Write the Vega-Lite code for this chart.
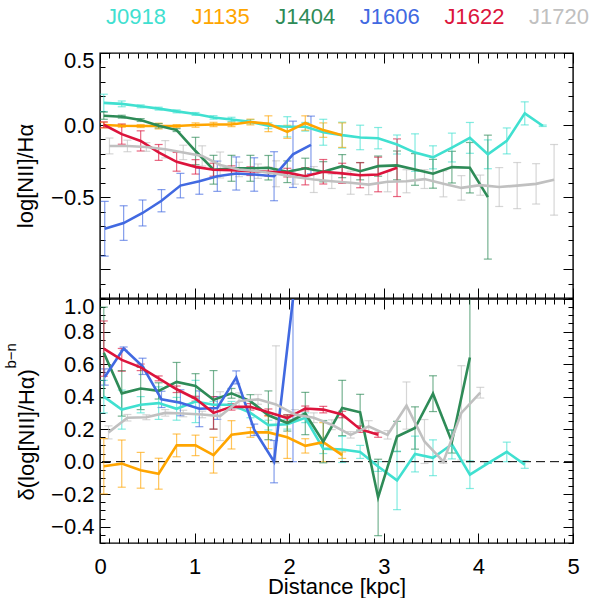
{
  "$schema": "https://vega.github.io/schema/vega-lite/v6.json",
  "padding": {"left": 2, "top": 0, "right": 0, "bottom": 0},
  "background": "white",
  "config": {
    "font": "Liberation Sans",
    "view": {"stroke": "black", "strokeWidth": 1.4},
    "axis": {
      "domain": false, "grid": false, "tickColor": "black", "tickWidth": 1,
      "labelColor": "black", "labelFontSize": 22, "labelFont": "Liberation Sans",
      "labelFlush": false, "labelOverlap": false,
      "titleFont": "Liberation Sans", "titleFontSize": 22, "titleFontWeight": "normal", "titleColor": "black"
    }
  },
  "datasets": {
    "top": [
      {"s":"J0918","x":0.04,"y":0.154,"e":0.06},{"s":"J0918","x":0.23,"y":0.147,"e":0.02},{"s":"J0918","x":0.43,"y":0.130,"e":0.01},{"s":"J0918","x":0.62,"y":0.114,"e":0.01},{"s":"J0918","x":0.81,"y":0.095,"e":0.01},{"s":"J0918","x":1.01,"y":0.077,"e":0.01},{"s":"J0918","x":1.20,"y":0.053,"e":0.012},{"s":"J0918","x":1.39,"y":0.039,"e":0.015},{"s":"J0918","x":1.59,"y":0.023,"e":0.015},{"s":"J0918","x":1.78,"y":-0.005,"e":0.02},{"s":"J0918","x":1.98,"y":-0.012,"e":0.07},{"s":"J0918","x":2.17,"y":-0.012,"e":0.03},{"s":"J0918","x":2.36,"y":-0.05,"e":0.09},{"s":"J0918","x":2.56,"y":-0.07,"e":0.09},{"s":"J0918","x":2.75,"y":-0.086,"e":0.085},{"s":"J0918","x":2.94,"y":-0.091,"e":0.074},{"s":"J0918","x":3.14,"y":-0.135,"e":0.066},{"s":"J0918","x":3.33,"y":-0.191,"e":0.13},{"s":"J0918","x":3.52,"y":-0.224,"e":0.08},{"s":"J0918","x":3.72,"y":-0.156,"e":0.1},{"s":"J0918","x":3.91,"y":-0.089,"e":0.107},{"s":"J0918","x":4.10,"y":-0.203,"e":0.1},{"s":"J0918","x":4.30,"y":-0.11,"e":0.09},{"s":"J0918","x":4.49,"y":0.081,"e":0.08},{"s":"J0918","x":4.68,"y":-0.005,"e":0.005},
      {"s":"J1135","x":0.04,"y":0.0,"e":0.02},{"s":"J1135","x":0.23,"y":-0.005,"e":0.01},{"s":"J1135","x":0.43,"y":-0.007,"e":0.01},{"s":"J1135","x":0.62,"y":-0.007,"e":0.02},{"s":"J1135","x":0.81,"y":-0.007,"e":0.01},{"s":"J1135","x":1.01,"y":0.0,"e":0.015},{"s":"J1135","x":1.20,"y":0.004,"e":0.015},{"s":"J1135","x":1.39,"y":0.004,"e":0.015},{"s":"J1135","x":1.59,"y":0.021,"e":0.02},{"s":"J1135","x":1.78,"y":0.009,"e":0.055},{"s":"J1135","x":1.98,"y":-0.047,"e":0.045},{"s":"J1135","x":2.17,"y":0.014,"e":0.05},{"s":"J1135","x":2.36,"y":-0.035,"e":0.05},{"s":"J1135","x":2.56,"y":-0.07,"e":0.085},
      {"s":"J1404","x":0.04,"y":0.065,"e":0.025},{"s":"J1404","x":0.23,"y":0.058,"e":0.01},{"s":"J1404","x":0.43,"y":0.035,"e":0.01},{"s":"J1404","x":0.62,"y":-0.005,"e":0.015},{"s":"J1404","x":0.81,"y":-0.035,"e":0.01},{"s":"J1404","x":1.01,"y":-0.18,"e":0.095},{"s":"J1404","x":1.20,"y":-0.31,"e":0.1},{"s":"J1404","x":1.39,"y":-0.30,"e":0.09},{"s":"J1404","x":1.59,"y":-0.30,"e":0.09},{"s":"J1404","x":1.78,"y":-0.296,"e":0.085},{"s":"J1404","x":1.98,"y":-0.324,"e":0.075},{"s":"J1404","x":2.17,"y":-0.30,"e":0.07},{"s":"J1404","x":2.36,"y":-0.324,"e":0.07},{"s":"J1404","x":2.56,"y":-0.285,"e":0.08},{"s":"J1404","x":2.75,"y":-0.32,"e":0.06},{"s":"J1404","x":2.94,"y":-0.285,"e":0.07},{"s":"J1404","x":3.14,"y":-0.28,"e":0.1},{"s":"J1404","x":3.33,"y":-0.308,"e":0.11},{"s":"J1404","x":3.52,"y":-0.338,"e":0.1},{"s":"J1404","x":3.72,"y":-0.292,"e":0.11},{"s":"J1404","x":3.91,"y":-0.296,"e":0.175},{"s":"J1404","x":4.10,"y":-0.5,"e":0.43},
      {"s":"J1606","x":0.05,"y":-0.72,"e":0.19},{"s":"J1606","x":0.25,"y":-0.68,"e":0.12},{"s":"J1606","x":0.45,"y":-0.61,"e":0.09},{"s":"J1606","x":0.65,"y":-0.525,"e":0.077},{"s":"J1606","x":0.85,"y":-0.42,"e":0.085},{"s":"J1606","x":1.05,"y":-0.39,"e":0.09},{"s":"J1606","x":1.24,"y":-0.355,"e":0.105},{"s":"J1606","x":1.44,"y":-0.336,"e":0.115},{"s":"J1606","x":1.63,"y":-0.343,"e":0.116},{"s":"J1606","x":1.84,"y":-0.355,"e":0.17},{"s":"J1606","x":2.04,"y":-0.203,"e":0.23},{"s":"J1606","x":2.23,"y":-0.138,"e":0.2},
      {"s":"J1622","x":0.04,"y":0.002,"e":0.02},{"s":"J1622","x":0.23,"y":-0.063,"e":0.07},{"s":"J1622","x":0.43,"y":-0.11,"e":0.07},{"s":"J1622","x":0.62,"y":-0.19,"e":0.055},{"s":"J1622","x":0.81,"y":-0.255,"e":0.065},{"s":"J1622","x":1.01,"y":-0.29,"e":0.05},{"s":"J1622","x":1.20,"y":-0.31,"e":0.045},{"s":"J1622","x":1.39,"y":-0.313,"e":0.03},{"s":"J1622","x":1.59,"y":-0.32,"e":0.03},{"s":"J1622","x":1.78,"y":-0.324,"e":0.03},{"s":"J1622","x":1.98,"y":-0.33,"e":0.03},{"s":"J1622","x":2.17,"y":-0.355,"e":0.06},{"s":"J1622","x":2.36,"y":-0.324,"e":0.085},{"s":"J1622","x":2.56,"y":-0.335,"e":0.07},{"s":"J1622","x":2.75,"y":-0.348,"e":0.087},{"s":"J1622","x":2.94,"y":-0.343,"e":0.12},{"s":"J1622","x":3.14,"y":-0.296,"e":0.2},
      {"s":"J1720","x":0.10,"y":-0.145,"e":0.055},{"s":"J1720","x":0.29,"y":-0.145,"e":0.04},{"s":"J1720","x":0.49,"y":-0.152,"e":0.03},{"s":"J1720","x":0.69,"y":-0.168,"e":0.06},{"s":"J1720","x":0.88,"y":-0.19,"e":0.05},{"s":"J1720","x":1.08,"y":-0.214,"e":0.07},{"s":"J1720","x":1.27,"y":-0.277,"e":0.09},{"s":"J1720","x":1.47,"y":-0.308,"e":0.05},{"s":"J1720","x":1.67,"y":-0.32,"e":0.05},{"s":"J1720","x":1.86,"y":-0.338,"e":0.09},{"s":"J1720","x":2.06,"y":-0.36,"e":0.05},{"s":"J1720","x":2.26,"y":-0.378,"e":0.09},{"s":"J1720","x":2.45,"y":-0.39,"e":0.05},{"s":"J1720","x":2.65,"y":-0.40,"e":0.08},{"s":"J1720","x":2.84,"y":-0.413,"e":0.07},{"s":"J1720","x":3.04,"y":-0.393,"e":0.07},{"s":"J1720","x":3.24,"y":-0.39,"e":0.08},{"s":"J1720","x":3.43,"y":-0.375,"e":0.065},{"s":"J1720","x":3.63,"y":-0.408,"e":0.09},{"s":"J1720","x":3.82,"y":-0.436,"e":0.085},{"s":"J1720","x":4.02,"y":-0.417,"e":0.07},{"s":"J1720","x":4.22,"y":-0.43,"e":0.135},{"s":"J1720","x":4.41,"y":-0.42,"e":0.16},{"s":"J1720","x":4.61,"y":-0.408,"e":0.14},{"s":"J1720","x":4.80,"y":-0.38,"e":0.245}
    ],
    "bottom": [
      {"s":"J0918","x":0.04,"y":0.40,"e":0.1},{"s":"J0918","x":0.23,"y":0.32,"e":0.12},{"s":"J0918","x":0.43,"y":0.35,"e":0.05},{"s":"J0918","x":0.62,"y":0.36,"e":0.1},{"s":"J0918","x":0.81,"y":0.325,"e":0.07},{"s":"J0918","x":1.01,"y":0.37,"e":0.13},{"s":"J0918","x":1.20,"y":0.35,"e":0.02},{"s":"J0918","x":1.39,"y":0.35,"e":0.02},{"s":"J0918","x":1.59,"y":0.30,"e":0.03},{"s":"J0918","x":1.78,"y":0.225,"e":0.03},{"s":"J0918","x":1.98,"y":0.23,"e":0.03},{"s":"J0918","x":2.17,"y":0.27,"e":0.03},{"s":"J0918","x":2.36,"y":0.08,"e":0.03},{"s":"J0918","x":2.56,"y":0.075,"e":0.08},{"s":"J0918","x":2.75,"y":0.06,"e":0.04},{"s":"J0918","x":2.94,"y":-0.03,"e":0.03},{"s":"J0918","x":3.14,"y":-0.115,"e":0.18},{"s":"J0918","x":3.33,"y":0.047,"e":0.11},{"s":"J0918","x":3.52,"y":0.024,"e":0.11},{"s":"J0918","x":3.72,"y":0.107,"e":0.09},{"s":"J0918","x":3.91,"y":-0.08,"e":0.085},{"s":"J0918","x":4.10,"y":-0.01,"e":0.0},{"s":"J0918","x":4.30,"y":0.06,"e":0.06},{"s":"J0918","x":4.49,"y":-0.018,"e":0.023},
      {"s":"J1135","x":0.04,"y":-0.028,"e":0.17},{"s":"J1135","x":0.23,"y":-0.012,"e":0.145},{"s":"J1135","x":0.43,"y":-0.053,"e":0.11},{"s":"J1135","x":0.62,"y":-0.074,"e":0.095},{"s":"J1135","x":0.81,"y":0.10,"e":0.07},{"s":"J1135","x":1.01,"y":0.10,"e":0.063},{"s":"J1135","x":1.20,"y":0.04,"e":0.11},{"s":"J1135","x":1.39,"y":0.165,"e":0.087},{"s":"J1135","x":1.59,"y":0.18,"e":0.03},{"s":"J1135","x":1.78,"y":0.18,"e":0.1},{"s":"J1135","x":1.98,"y":0.15,"e":0.13},{"s":"J1135","x":2.17,"y":0.097,"e":0.044},{"s":"J1135","x":2.36,"y":0.12,"e":0.12},{"s":"J1135","x":2.56,"y":0.04,"e":0.02},
      {"s":"J1404","x":0.04,"y":0.67,"e":0.28},{"s":"J1404","x":0.23,"y":0.42,"e":0.14},{"s":"J1404","x":0.43,"y":0.45,"e":0.13},{"s":"J1404","x":0.62,"y":0.435,"e":0.05},{"s":"J1404","x":0.81,"y":0.49,"e":0.12},{"s":"J1404","x":1.01,"y":0.466,"e":0.075},{"s":"J1404","x":1.20,"y":0.38,"e":0.18},{"s":"J1404","x":1.39,"y":0.42,"e":0.03},{"s":"J1404","x":1.59,"y":0.372,"e":0.04},{"s":"J1404","x":1.78,"y":0.285,"e":0.15},{"s":"J1404","x":1.98,"y":0.238,"e":0.05},{"s":"J1404","x":2.17,"y":0.296,"e":0.13},{"s":"J1404","x":2.36,"y":0.123,"e":0.13},{"s":"J1404","x":2.56,"y":0.33,"e":0.17},{"s":"J1404","x":2.75,"y":0.304,"e":0.11},{"s":"J1404","x":2.94,"y":-0.22,"e":0.235},{"s":"J1404","x":3.14,"y":0.155,"e":0.093},{"s":"J1404","x":3.33,"y":0.207,"e":0.13},{"s":"J1404","x":3.52,"y":0.418,"e":0.11},{"s":"J1404","x":3.72,"y":0.123,"e":0.07},{"s":"J1404","x":3.91,"y":0.64,"e":0.64},
      {"s":"J1606","x":0.05,"y":0.52,"e":0.05},{"s":"J1606","x":0.25,"y":0.695,"e":0.01},{"s":"J1606","x":0.45,"y":0.586,"e":0.05},{"s":"J1606","x":0.65,"y":0.383,"e":0.05},{"s":"J1606","x":0.85,"y":0.362,"e":0.08},{"s":"J1606","x":1.05,"y":0.325,"e":0.11},{"s":"J1606","x":1.24,"y":0.33,"e":0.07},{"s":"J1606","x":1.44,"y":0.518,"e":0.04},{"s":"J1606","x":1.63,"y":0.196,"e":0.035},{"s":"J1606","x":1.84,"y":0.0,"e":0.13},{"s":"J1606","x":2.04,"y":1.0,"e":1.0},
      {"s":"J1622","x":0.04,"y":0.695,"e":0.17},{"s":"J1622","x":0.23,"y":0.626,"e":0.07},{"s":"J1622","x":0.43,"y":0.58,"e":0.02},{"s":"J1622","x":0.62,"y":0.512,"e":0.015},{"s":"J1622","x":0.81,"y":0.445,"e":0.02},{"s":"J1622","x":1.01,"y":0.387,"e":0.015},{"s":"J1622","x":1.20,"y":0.30,"e":0.1},{"s":"J1622","x":1.39,"y":0.337,"e":0.02},{"s":"J1622","x":1.59,"y":0.337,"e":0.02},{"s":"J1622","x":1.78,"y":0.304,"e":0.02},{"s":"J1622","x":1.98,"y":0.268,"e":0.02},{"s":"J1622","x":2.17,"y":0.327,"e":0.015},{"s":"J1622","x":2.36,"y":0.32,"e":0.02},{"s":"J1622","x":2.56,"y":0.29,"e":0.02},{"s":"J1622","x":2.75,"y":0.20,"e":0.02},{"s":"J1622","x":2.94,"y":0.165,"e":0.015},
      {"s":"J1720","x":0.09,"y":0.18,"e":0.04},{"s":"J1720","x":0.29,"y":0.27,"e":0.02},{"s":"J1720","x":0.49,"y":0.273,"e":0.015},{"s":"J1720","x":0.69,"y":0.30,"e":0.02},{"s":"J1720","x":0.88,"y":0.296,"e":0.02},{"s":"J1720","x":1.08,"y":0.29,"e":0.02},{"s":"J1720","x":1.27,"y":0.28,"e":0.15},{"s":"J1720","x":1.47,"y":0.373,"e":0.05},{"s":"J1720","x":1.67,"y":0.383,"e":0.03},{"s":"J1720","x":1.86,"y":0.352,"e":0.36},{"s":"J1720","x":2.06,"y":0.29,"e":0.03},{"s":"J1720","x":2.26,"y":0.27,"e":0.03},{"s":"J1720","x":2.45,"y":0.227,"e":0.03},{"s":"J1720","x":2.65,"y":0.165,"e":0.02},{"s":"J1720","x":2.84,"y":0.217,"e":0.035},{"s":"J1720","x":3.04,"y":0.165,"e":0.026},{"s":"J1720","x":3.24,"y":0.345,"e":0.145},{"s":"J1720","x":3.43,"y":0.124,"e":0.135},{"s":"J1720","x":3.63,"y":0.0,"e":0.01},{"s":"J1720","x":3.82,"y":0.30,"e":0.29},{"s":"J1720","x":4.02,"y":0.424,"e":0.033}
    ]
  },
  "spacing": 19,
  "bounds": "flush",
  "vconcat": [
    {
      "width": 473,
      "height": 34,
      "view": {"stroke": null},
      "data": {"values": [{"s": "J0918"}, {"s": "J1135"}, {"s": "J1404"}, {"s": "J1606"}, {"s": "J1622"}, {"s": "J1720"}]},
      "mark": {"type": "text", "fontSize": 22, "baseline": "middle", "font": "Liberation Sans"},
      "encoding": {
        "x": {"field": "s", "type": "nominal", "scale": {"type": "point", "padding": 0.296, "align": 0.72}, "axis": null},
        "text": {"field": "s"},
        "color": {"field": "s", "type": "nominal", "legend": null,
          "scale": {"domain": ["J0918", "J1135", "J1404", "J1606", "J1622", "J1720"], "range": ["#40E0D0", "#FFA500", "#2E8B57", "#4169E1", "#DC143C", "#C0C0C0"]}}
      }
    },
    {
      "spacing": 1,
      "bounds": "flush",
      "vconcat": [
        {
          "width": 473,
          "height": 245,
          "data": {"name": "top"},
          "resolve": {"axis": {"x": "independent", "y": "independent"}},
          "layer": [
            {
              "mark": {"type": "errorbar", "ticks": {"size": 8}, "thickness": 1.2, "opacity": 0.65, "clip": true},
              "encoding": {
                "x": {"field": "x", "type": "quantitative", "scale": {"domain": [0, 5], "nice": false},
                  "axis": {"orient": "bottom", "labels": false, "title": null,
                    "values": [0,0.1,0.2,0.3,0.4,0.5,0.6,0.7,0.8,0.9,1,1.1,1.2,1.3,1.4,1.5,1.6,1.7,1.8,1.9,2,2.1,2.2,2.3,2.4,2.5,2.6,2.7,2.8,2.9,3,3.1,3.2,3.3,3.4,3.5,3.6,3.7,3.8,3.9,4,4.1,4.2,4.3,4.4,4.5,4.6,4.7,4.8,4.9,5],
                    "tickSize": {"condition": {"test": "abs(datum.value - round(datum.value)) < 0.001", "value": -10}, "value": -5}}},
                "y": {"field": "y", "type": "quantitative", "scale": {"domain": [-1.2, 0.5], "nice": false, "zero": false},
                  "axis": {"orient": "left", "format": ".1f",
                    "values": [-1.2,-1.1,-1.0,-0.9,-0.8,-0.7,-0.6,-0.5,-0.4,-0.3,-0.2,-0.1,0,0.1,0.2,0.3,0.4,0.5],
                    "labelExpr": "abs(datum.value*2 - round(datum.value*2)) < 0.001 && datum.value > -0.9 ? datum.label : ''",
                    "tickSize": {"condition": {"test": "abs(datum.value*2 - round(datum.value*2)) < 0.001", "value": -10}, "value": -5},
                    "labelPadding": 16, "labelFlush": true, "labelFlushOffset": 3,
                    "title": "log[NII]/Hα", "titleX": -68, "titleY": 122.5, "titleAngle": -90, "titleAlign": "center", "titleBaseline": "alphabetic"}},
                "yError": {"field": "e"},
                "color": {"field": "s", "type": "nominal", "legend": null,
                  "scale": {"domain": ["J0918", "J1135", "J1404", "J1606", "J1622", "J1720"], "range": ["#40E0D0", "#FFA500", "#2E8B57", "#4169E1", "#DC143C", "#C0C0C0"]}}
              }
            },
            {
              "mark": {"type": "line", "strokeWidth": 2.6, "clip": true},
              "encoding": {
                "x": {"field": "x", "type": "quantitative", "scale": {"domain": [0, 5], "nice": false},
                  "axis": {"orient": "top", "labels": false, "title": null,
                    "values": [0,0.1,0.2,0.3,0.4,0.5,0.6,0.7,0.8,0.9,1,1.1,1.2,1.3,1.4,1.5,1.6,1.7,1.8,1.9,2,2.1,2.2,2.3,2.4,2.5,2.6,2.7,2.8,2.9,3,3.1,3.2,3.3,3.4,3.5,3.6,3.7,3.8,3.9,4,4.1,4.2,4.3,4.4,4.5,4.6,4.7,4.8,4.9,5],
                    "tickSize": {"condition": {"test": "abs(datum.value - round(datum.value)) < 0.001", "value": -10}, "value": -5}}},
                "y": {"field": "y", "type": "quantitative", "scale": {"domain": [-1.2, 0.5], "nice": false, "zero": false},
                  "axis": {"orient": "right", "labels": false, "title": null,
                    "values": [-1.2,-1.1,-1.0,-0.9,-0.8,-0.7,-0.6,-0.5,-0.4,-0.3,-0.2,-0.1,0,0.1,0.2,0.3,0.4,0.5],
                    "tickSize": {"condition": {"test": "abs(datum.value*2 - round(datum.value*2)) < 0.001", "value": -10}, "value": -5}}},
                "color": {"field": "s", "type": "nominal", "legend": null,
                  "scale": {"domain": ["J0918", "J1135", "J1404", "J1606", "J1622", "J1720"], "range": ["#40E0D0", "#FFA500", "#2E8B57", "#4169E1", "#DC143C", "#C0C0C0"]}}
              }
            }
          ]
        },
        {
          "width": 473,
          "height": 244,
          "resolve": {"axis": {"x": "independent", "y": "independent"}},
          "layer": [
            {
              "data": {"name": "bottom"},
              "mark": {"type": "errorbar", "ticks": {"size": 8}, "thickness": 1.2, "opacity": 0.65, "clip": true},
              "encoding": {
                "x": {"field": "x", "type": "quantitative", "scale": {"domain": [0, 5], "nice": false},
                  "axis": {"orient": "bottom", "labelOverlap": false,
                    "values": [0,0.1,0.2,0.3,0.4,0.5,0.6,0.7,0.8,0.9,1,1.1,1.2,1.3,1.4,1.5,1.6,1.7,1.8,1.9,2,2.1,2.2,2.3,2.4,2.5,2.6,2.7,2.8,2.9,3,3.1,3.2,3.3,3.4,3.5,3.6,3.7,3.8,3.9,4,4.1,4.2,4.3,4.4,4.5,4.6,4.7,4.8,4.9,5],
                    "labelExpr": "abs(datum.value - round(datum.value)) < 0.001 ? '' + round(datum.value) : ''",
                    "tickSize": {"condition": {"test": "abs(datum.value - round(datum.value)) < 0.001", "value": -10}, "value": -5},
                    "labelPadding": 23,
                    "title": "Distance [kpc]", "titleY": 50, "titleBaseline": "alphabetic"}},
                "y": {"field": "y", "type": "quantitative", "scale": {"domain": [-0.5, 1.0], "nice": false, "zero": false},
                  "axis": {"orient": "left", "format": ".1f",
                    "values": [-0.5,-0.45,-0.4,-0.35,-0.3,-0.25,-0.2,-0.15,-0.1,-0.05,0,0.05,0.1,0.15,0.2,0.25,0.3,0.35,0.4,0.45,0.5,0.55,0.6,0.65,0.7,0.75,0.8,0.85,0.9,0.95,1.0],
                    "labelExpr": "abs(datum.value*5 - round(datum.value*5)) < 0.001 ? datum.label : ''",
                    "tickSize": {"condition": {"test": "abs(datum.value*5 - round(datum.value*5)) < 0.001", "value": -10}, "value": -5},
                    "labelPadding": 16, "labelFlush": true, "labelFlushOffset": 3,
                    "title": "δ(log[NII]/Hα)", "titleX": -67, "titleY": 201, "titleAngle": -90, "titleAlign": "left", "titleBaseline": "alphabetic"}},
                "yError": {"field": "e"},
                "color": {"field": "s", "type": "nominal", "legend": null,
                  "scale": {"domain": ["J0918", "J1135", "J1404", "J1606", "J1622", "J1720"], "range": ["#40E0D0", "#FFA500", "#2E8B57", "#4169E1", "#DC143C", "#C0C0C0"]}}
              }
            },
            {
              "data": {"values": [{"zero": 0}]},
              "mark": {"type": "rule", "strokeDash": [9, 5], "color": "black", "strokeWidth": 1},
              "encoding": {
                "y": {"field": "zero", "type": "quantitative", "axis": null}
              }
            },
            {
              "data": {"name": "bottom"},
              "mark": {"type": "line", "strokeWidth": 2.6, "clip": true},
              "encoding": {
                "x": {"field": "x", "type": "quantitative", "scale": {"domain": [0, 5], "nice": false},
                  "axis": {"orient": "top", "labels": false, "title": null,
                    "values": [0,0.1,0.2,0.3,0.4,0.5,0.6,0.7,0.8,0.9,1,1.1,1.2,1.3,1.4,1.5,1.6,1.7,1.8,1.9,2,2.1,2.2,2.3,2.4,2.5,2.6,2.7,2.8,2.9,3,3.1,3.2,3.3,3.4,3.5,3.6,3.7,3.8,3.9,4,4.1,4.2,4.3,4.4,4.5,4.6,4.7,4.8,4.9,5],
                    "tickSize": {"condition": {"test": "abs(datum.value - round(datum.value)) < 0.001", "value": -10}, "value": -5}}},
                "y": {"field": "y", "type": "quantitative", "scale": {"domain": [-0.5, 1.0], "nice": false, "zero": false},
                  "axis": {"orient": "right", "labels": false,
                    "values": [-0.5,-0.45,-0.4,-0.35,-0.3,-0.25,-0.2,-0.15,-0.1,-0.05,0,0.05,0.1,0.15,0.2,0.25,0.3,0.35,0.4,0.45,0.5,0.55,0.6,0.65,0.7,0.75,0.8,0.85,0.9,0.95,1.0],
                    "tickSize": {"condition": {"test": "abs(datum.value*5 - round(datum.value*5)) < 0.001", "value": -10}, "value": -5},
                    "title": "b−n", "titleFontSize": 15, "titleX": -558, "titleY": 69, "titleAngle": -90, "titleAlign": "left", "titleBaseline": "alphabetic"}},
                "color": {"field": "s", "type": "nominal", "legend": null,
                  "scale": {"domain": ["J0918", "J1135", "J1404", "J1606", "J1622", "J1720"], "range": ["#40E0D0", "#FFA500", "#2E8B57", "#4169E1", "#DC143C", "#C0C0C0"]}}
              }
            }
          ]
        }
      ]
    }
  ]
}
